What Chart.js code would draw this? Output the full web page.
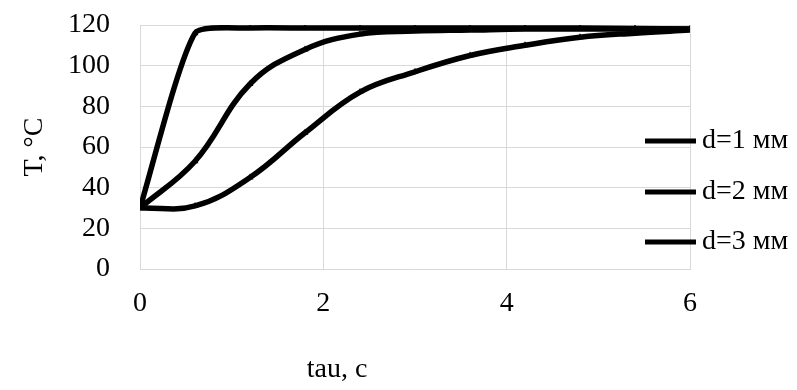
<!DOCTYPE html>
<html lang="en">
<head>
    <meta charset="UTF-8">
    <title>T(tau)</title>
    <script src="https://cdn.jsdelivr.net/npm/chart.js"></script>
    <style>
        body { margin: 0; background: #fff; }
        #wrap { width: 797px; height: 390px; }
    </style>
</head>
<body>
    <div id="wrap"><canvas id="chart" width="797" height="390"></canvas></div>
    <script>
        // time points, s
        const tau = [0, 0.6, 1.2, 1.8, 2.4, 3.0, 3.6, 4.2, 4.8, 5.4, 6.0];
        // temperature, °C
        const d1 = [30, 116, 118.5, 118.5, 118.5, 118.5, 118.5, 118.5, 118.5, 118.3, 118];
        const d2 = [30, 53, 91, 108, 115.5, 117, 117.5, 118, 118, 118, 118];
        const d3 = [30, 31, 45, 67, 87, 97, 105, 110, 114, 116, 117.5];
        const seriesNames = ['d=1 мм', 'd=2 мм', 'd=3 мм'];
        const xTicks = [0, 2, 4, 6];

        const FONT = 'Liberation Serif';
        const FS = 28;

        function pts(ys) {
            return tau.map((t, i) => ({ x: t, y: ys[i] }));
        }

        function makeSet(label, ys, tension) {
            return {
                label: label,
                data: pts(ys),
                borderColor: '#000',
                backgroundColor: '#000',
                borderWidth: 5.5,
                tension: tension,
                pointStyle: 'triangle',
                pointRadius: 4,
                pointBorderWidth: 0,
                fill: false
            };
        }

        // legend and x title drawn by hand so they can sit where the original has them
        const extras = {
            id: 'extras',
            afterDraw(chart) {
                const ctx = chart.ctx;
                ctx.save();
                ctx.fillStyle = '#000';
                ctx.strokeStyle = '#000';
                ctx.font = FS + 'px "' + FONT + '"';
                ctx.textBaseline = 'middle';
                const rows = [141, 192, 242];
                seriesNames.forEach((name, i) => {
                    ctx.lineWidth = 5;
                    ctx.beginPath();
                    ctx.moveTo(645, rows[i]);
                    ctx.lineTo(696, rows[i]);
                    ctx.stroke();
                    ctx.textAlign = 'left';
                    ctx.fillText(name, 702, rows[i]);
                });
                ctx.textAlign = 'center';
                ctx.fillText('tau, c', 337, 370);
                ctx.restore();
            }
        };

        new Chart(document.getElementById('chart'), {
            type: 'line',
            data: {
                datasets: [
                    makeSet(seriesNames[0], d1, 0.2),
                    makeSet(seriesNames[1], d2, 0.4),
                    makeSet(seriesNames[2], d3, 0.4)
                ]
            },
            options: {
                responsive: false,
                animation: false,
                layout: { padding: { left: 0, right: 107, top: 25, bottom: 0 } },
                plugins: {
                    legend: { display: false },
                    tooltip: { enabled: false }
                },
                scales: {
                    x: {
                        type: 'linear',
                        min: 0,
                        max: 6,
                        afterBuildTicks: s => { s.ticks = xTicks.map(v => ({ value: v })); },
                        afterFit: s => { s.height = 390 - 269; },
                        grid: { color: '#d9d9d9', drawTicks: false, lineWidth: 1 },
                        border: { color: '#d9d9d9' },
                        ticks: { color: '#000', padding: 18, font: { family: FONT, size: FS } }
                    },
                    y: {
                        min: 0,
                        max: 120,
                        afterFit: s => {
                            s.width = 140;
                            s.paddingTop = 0;
                            s.paddingBottom = 0;
                        },
                        grid: { color: '#d9d9d9', drawTicks: false, lineWidth: 1 },
                        border: { color: '#d9d9d9' },
                        ticks: { color: '#000', stepSize: 20, padding: 30, font: { family: FONT, size: FS } },
                        title: { display: true, text: 'T, °C', color: '#000', padding: { top: 18, bottom: 0 }, font: { family: FONT, size: FS } }
                    }
                }
            },
            plugins: [extras]
        });
    </script>
</body>
</html>
